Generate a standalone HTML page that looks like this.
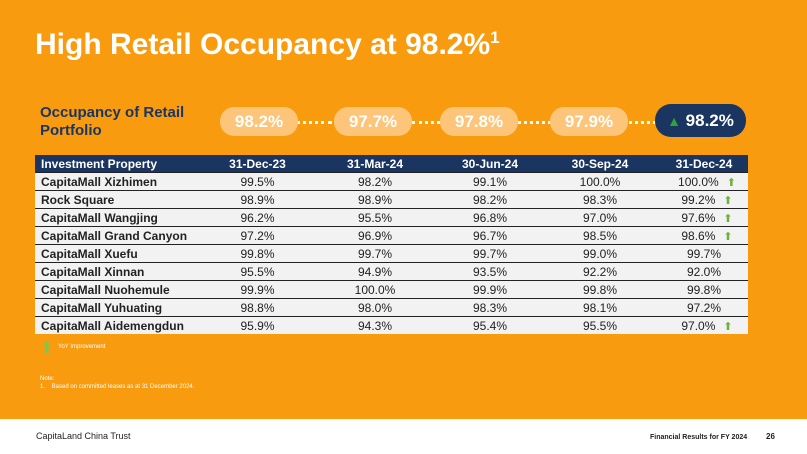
<!DOCTYPE html><html><head><style>
body{margin:0;width:807px;height:454px;overflow:hidden;background:#fff;font-family:"Liberation Sans",sans-serif;position:relative}
.or{position:absolute;left:0;top:0;width:807px;height:419px;background:#F99B0F}
.t{position:absolute;left:35px;top:28px;color:#fff;font-size:30px;font-weight:bold}
.lab{position:absolute;left:40px;top:104px;color:#1B3561;font-size:15px;font-weight:bold;line-height:18px}
.b{position:absolute;top:107px;height:29px;width:78px;border-radius:14px;background:#FCC57A;color:#fff;font-size:17px;font-weight:bold;text-align:center;line-height:29px}
.d{position:absolute;top:121px;height:0;border-top:3px dotted #fff}
table{position:absolute;left:35px;top:155px;width:713px;border-collapse:collapse;font-size:12px;table-layout:fixed}
th{background:#1B3561;color:#fff;height:17px;padding:0;font-size:12px}
td{background:#F2F2F2;height:17px;padding:0;border-top:1px solid #222;text-align:center;color:#222}
td:first-child{text-align:left;padding-left:6px;font-weight:bold;color:#222}
.ar{color:#6BB33D;font-size:11px;margin-left:8px}
</style></head><body>
<div class="or"></div>
<div class="t">High Retail Occupancy at 98.2%<sup style="font-size:17px">1</sup></div>
<div class="lab">Occupancy of Retail<br>Portfolio</div>
<div class="d" style="left:296px;width:36px"></div>
<div class="d" style="left:412px;width:28px"></div>
<div class="d" style="left:513px;width:38px"></div>
<div class="d" style="left:624px;width:32px"></div>
<div class="b" style="left:220px">98.2%</div>
<div class="b" style="left:334px">97.7%</div>
<div class="b" style="left:440px">97.8%</div>
<div class="b" style="left:550px">97.9%</div>
<div class="b" style="left:655px;width:91px;height:33px;top:104px;line-height:33px;background:#1B3561;border-radius:16px"><span style="color:#2ea33a;font-size:14px">▲</span> 98.2%</div>
<table>
<colgroup><col style="width:170px"><col style="width:105px"><col style="width:130px"><col style="width:100px"><col style="width:120px"><col style="width:88px"></colgroup>
<tr><th style="text-align:left;padding-left:6px">Investment Property</th><th>31-Dec-23</th><th>31-Mar-24</th><th>30-Jun-24</th><th>30-Sep-24</th><th>31-Dec-24</th></tr>
<tr><td>CapitaMall Xizhimen</td><td>99.5%</td><td>98.2%</td><td>99.1%</td><td>100.0%</td><td style="padding-left:6px">100.0%<span class="ar">⬆</span></td></tr>
<tr><td>Rock Square</td><td>98.9%</td><td>98.9%</td><td>98.2%</td><td>98.3%</td><td style="padding-left:6px">99.2%<span class="ar">⬆</span></td></tr>
<tr><td>CapitaMall Wangjing</td><td>96.2%</td><td>95.5%</td><td>96.8%</td><td>97.0%</td><td style="padding-left:6px">97.6%<span class="ar">⬆</span></td></tr>
<tr><td>CapitaMall Grand Canyon</td><td>97.2%</td><td>96.9%</td><td>96.7%</td><td>98.5%</td><td style="padding-left:6px">98.6%<span class="ar">⬆</span></td></tr>
<tr><td>CapitaMall Xuefu</td><td>99.8%</td><td>99.7%</td><td>99.7%</td><td>99.0%</td><td>99.7%</td></tr>
<tr><td>CapitaMall Xinnan</td><td>95.5%</td><td>94.9%</td><td>93.5%</td><td>92.2%</td><td>92.0%</td></tr>
<tr><td>CapitaMall Nuohemule</td><td>99.9%</td><td>100.0%</td><td>99.9%</td><td>99.8%</td><td>99.8%</td></tr>
<tr><td>CapitaMall Yuhuating</td><td>98.8%</td><td>98.0%</td><td>98.3%</td><td>98.1%</td><td>97.2%</td></tr>
<tr><td>CapitaMall Aidemengdun</td><td>95.9%</td><td>94.3%</td><td>95.4%</td><td>95.5%</td><td style="padding-left:6px">97.0%<span class="ar">⬆</span></td></tr>
</table>
<div style="position:absolute;left:40px;top:338px;color:#7ec850;font-size:16px">⬆</div>
<div style="position:absolute;left:58px;top:344px;color:#fff;font-size:6px">YoY Improvement</div>
<div style="position:absolute;left:40px;top:375px;color:#fff;font-size:6px;line-height:8px">Note:<br>1.&nbsp;&nbsp;&nbsp;&nbsp;Based on committed leases as at 31 December 2024.</div>
<div style="position:absolute;left:36px;top:431px;color:#222;font-size:9px">CapitaLand China Trust</div>
<div style="position:absolute;left:650px;top:434px;color:#222;font-size:7px;font-weight:bold">Financial Results for FY 2024</div>
<div style="position:absolute;left:766px;top:432px;color:#222;font-size:8px;font-weight:bold">26</div>
</body></html>
